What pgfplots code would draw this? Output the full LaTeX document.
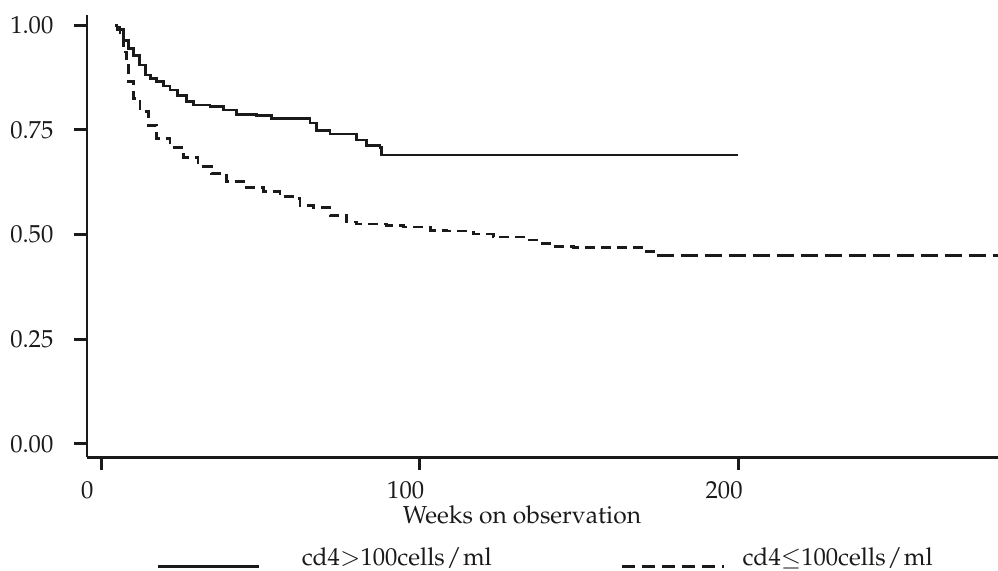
\documentclass[border=0pt]{standalone}
\usepackage[T1]{fontenc}
\usepackage{mathpazo}
\usepackage{pgfplots}
\pgfplotsset{compat=1.18}
\definecolor{ink}{HTML}{1A1A1A}
\newcommand\tf{\fontsize{12.3}{14}\selectfont}
\pgfplotstableread{
x y
4.3 1.000
5.0 0.990
6.9 0.964
8.5 0.945
10.1 0.928
12.0 0.905
13.8 0.881
15.5 0.872
17.4 0.865
19.5 0.855
21.6 0.845
24.0 0.832
26.8 0.817
28.9 0.809
34.2 0.806
38.3 0.797
42.5 0.787
48.8 0.785
53.5 0.777
65.6 0.766
67.7 0.749
71.8 0.740
80.2 0.726
83.4 0.712
87.5 0.708
88.1 0.690
200.0 0.690
}\highcd
\pgfplotstableread{
x y
5.0 0.995
5.9 0.968
6.9 0.936
8.0 0.904
8.5 0.865
10.1 0.825
12.2 0.793
14.8 0.761
17.4 0.729
21.6 0.707
25.8 0.684
30.4 0.662
34.6 0.646
39.4 0.626
44.6 0.612
50.9 0.602
56.1 0.590
60.8 0.586
62.4 0.570
66.6 0.565
71.8 0.546
77.1 0.530
80.2 0.525
89.6 0.522
94.9 0.518
103.3 0.510
108.5 0.508
116.8 0.501
123.1 0.494
133.6 0.487
137.8 0.479
141.9 0.471
148.2 0.469
171.3 0.459
174.4 0.450
}\lowcd
\pgfplotstableread{
x y
174.4 0.450
281.6 0.450
}\lowtail
\begin{document}
\begin{tikzpicture}
\useasboundingbox (-43.5pt,-56.35pt) rectangle (455.5pt,228.7pt);
\begin{axis}[
  at={(0pt,0pt)}, anchor=south west,
  scale only axis, width=455.5pt, height=221.15pt,
  xmin=-4.46, xmax=281.6, ymin=-0.0325, ymax=1.024,
  axis x line*=bottom, axis y line*=left,
  axis line style={line width=1.4pt, color=ink, -},
  every tick/.style={line width=1.4pt, color=ink},
  tick align=outside, major tick length=6.3pt,
  xtick={0,100,200}, ytick={0,0.25,0.5,0.75,1},
  xticklabels={0,100,200},
  yticklabels={0.00,0.25,0.50,0.75,1.00},
  ticklabel style={font=\tf, text=ink},
  yticklabel style={xshift=-7pt},
  xticklabel style={xshift=-7pt, yshift=-2pt},
  xlabel={\tf Weeks on observation},
  label style={font=\tf, text=ink},
  xlabel style={at={(axis description cs:0.4775,0)}, anchor=base, yshift=-32.85pt},
  legend columns=2,
  legend style={at={(axis description cs:0.0768,0)}, anchor=west, yshift=-54.6pt,
    draw=none, fill=none, inner sep=0pt, outer sep=0pt,
    /tikz/every even column/.append style={column sep=0pt},
    /tikz/column sep=0pt,
    nodes={inner sep=0pt, outer sep=0pt, text=ink}},
]
\addplot[const plot, ink, line width=1.35pt,
  legend image code/.code={\draw[ink, line width=1.4pt] (0pt,0pt) -- (50.5pt,0pt);}]
  table[x=x,y=y] {\highcd};
\addlegendentry{\smash{\makebox[180pt][l]{\tf\hspace*{20.5pt}cd4$>$100cells\kern0.8pt/\kern0.8pt ml}}}
\addplot[const plot, ink, line width=1.35pt, dash pattern=on 5pt off 3pt,
  legend image code/.code={\draw[ink, line width=1.4pt, dash pattern=on 6.5pt off 3.5pt] (0pt,0pt) -- (51pt,0pt);}]
  table[x=x,y=y] {\lowcd};
\addlegendentry{\smash{\makebox[100pt][l]{\tf\hspace*{8.5pt}cd4$\leq$100cells\kern0.8pt/\kern0.8pt ml}}}
\addplot[forget plot, ink, line width=1.8pt, dash pattern=on 8.5pt off 3.5pt]
  table[x=x,y=y] {\lowtail};
\end{axis}
\end{tikzpicture}
\end{document}
